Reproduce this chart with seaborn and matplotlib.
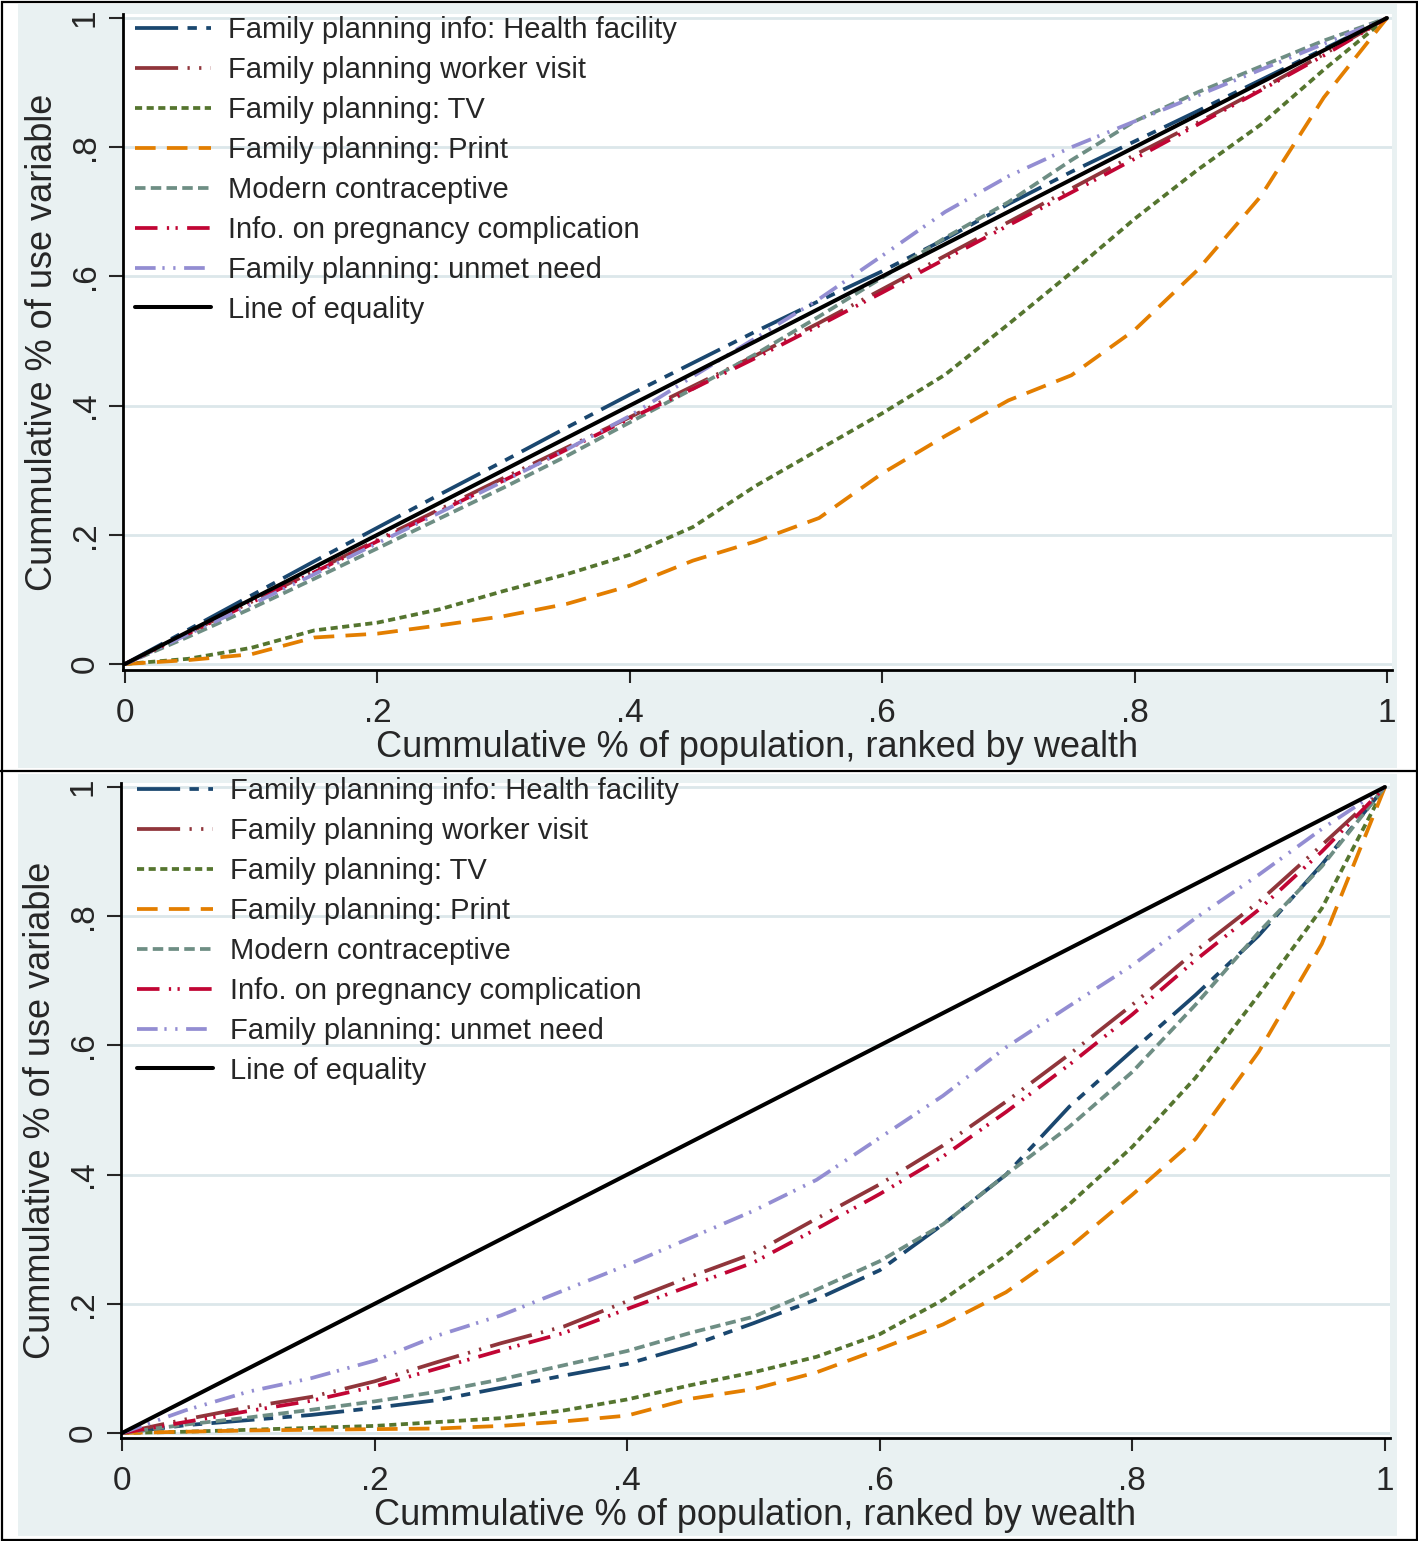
import numpy as np
import pandas as pd
import matplotlib
matplotlib.use("Agg")
import matplotlib.pyplot as plt
from matplotlib.patches import Rectangle
from matplotlib.lines import Line2D
import seaborn as sns

sns.set_style("white")
plt.rcParams['font.family'] = ['Liberation Sans', 'DejaVu Sans']

# Dane - skumulowany udzial populacji (ranking wg zamoznosci)
udzial = [0, .05, .1, .15, .2, .25, .3, .35, .4, .45, .5,
          .55, .6, .65, .7, .75, .8, .85, .9, .95, 1]

nazwy = ["Family planning info: Health facility",
         "Family planning worker visit",
         "Family planning: TV",
         "Family planning: Print",
         "Modern contraceptive",
         "Info. on pregnancy complication",
         "Family planning: unmet need",
         "Line of equality"]

# panel gorny
g_placowka = [0, .053, .106, .159, .211, .263, .314, .366, .417, .466, .515,
              .562, .608, .658, .712, .762, .809, .856, .904, .952, 1]
g_wizyta = [0, .048, .096, .144, .192, .240, .288, .335, .382, .430, .478,
            .528, .580, .632, .684, .736, .788, .838, .890, .944, 1]
g_tv = [0, .008, .025, .052, .064, .085, .113, .139, .169, .212, .276,
        .332, .388, .448, .526, .606, .689, .765, .835, .920, 1]
g_druk = [0, .006, .015, .041, .047, .060, .074, .093, .121, .160, .190,
          .226, .295, .353, .408, .447, .517, .610, .724, .877, 1]
g_nowoczesna = [0, .042, .086, .132, .179, .226, .273, .322, .374, .426, .480,
                .538, .598, .660, .715, .780, .840, .885, .925, .965, 1]
g_ciaza = [0, .047, .095, .142, .190, .237, .284, .332, .380, .426, .474,
           .524, .575, .627, .679, .730, .782, .835, .888, .942, 1]
g_potrzeba = [0, .046, .092, .139, .187, .235, .283, .332, .384, .445, .505,
              .565, .632, .700, .755, .800, .840, .880, .920, .960, 1]

# panel dolny
d_placowka = [0, .012, .020, .028, .039, .051, .070, .089, .107, .135, .170,
              .207, .252, .323, .400, .505, .592, .678, .770, .880, 1]
d_wizyta = [0, .021, .040, .056, .080, .110, .139, .165, .204, .242, .278,
            .332, .385, .445, .513, .586, .663, .746, .822, .910, 1]
d_tv = [0, .002, .005, .008, .011, .017, .023, .035, .052, .074, .094,
        .118, .153, .206, .275, .354, .443, .550, .678, .812, 1]
d_druk = [0, .002, .004, .005, .006, .007, .011, .018, .027, .053, .068,
          .094, .130, .168, .218, .287, .369, .455, .590, .757, 1]
d_nowoczesna = [0, .013, .024, .036, .049, .064, .083, .105, .127, .155, .180,
                .222, .266, .323, .400, .474, .559, .663, .775, .877, 1]
d_ciaza = [0, .017, .034, .050, .072, .100, .128, .155, .192, .228, .264,
           .316, .370, .428, .497, .570, .648, .732, .810, .900, 1]
d_potrzeba = [0, .035, .064, .085, .112, .151, .182, .221, .260, .302, .344,
              .392, .457, .522, .597, .661, .724, .797, .864, .935, 1]

rownosc_x = [0, 1]
rownosc_y = [0, 1]

kolory = ['#1A476F', '#90353B', '#55752F', '#E37E00',
          '#6E8E84', '#C10534', '#938DD2', 'black']
wzory = [(0, (11.5, 2.5, 2.5, 2.5, 2.5, 2.5)),
         (0, (11.5, 2.5, 0.6, 2.5, 0.6, 2.5)),
         (0, (1.9, 1.2)),
         (0, (5.5, 3)),
         (0, (2.8, 1.4)),
         (0, (6, 2.5, 0.6, 1.7, 0.6, 2.5)),
         (0, (5.5, 1.8, 0.6, 2.3, 0.6, 2.3)),
         '-']

W, H = 1418, 1541
fig = plt.figure(figsize=(W / 100, H / 100), dpi=100)
tlo = '#E9F1F2'


def px(x0, y0, x1, y1):
    # prostokat w pikselach -> ulamki figury
    return [x0 / W, 1 - y1 / H, (x1 - x0) / W, (y1 - y0) / H]


# tlo obszaru wykresu (styl Stata)
for y0, y1 in [(4, 768), (774, 1536)]:
    r = px(18, y0, 1397, y1)
    fig.add_artist(Rectangle((r[0], r[1]), r[2], r[3], transform=fig.transFigure,
                             facecolor=tlo, edgecolor='none', zorder=0))
fig.add_artist(Line2D([0, 1], [1 - 771 / H, 1 - 771 / H], color='black', lw=1.6,
                      transform=fig.transFigure))
fig.add_artist(Rectangle((1.5 / W, 1.5 / H), 1 - 3 / W, 1 - 3 / H,
                         transform=fig.transFigure, facecolor='none',
                         edgecolor='black', lw=1.6))


def rysuj(pos, krzywe, xlim, ylim, leg_xy):
    ax = fig.add_axes(pos)
    ax.set_facecolor('white')
    for i, y in enumerate(krzywe):
        xs = rownosc_x if i == 7 else udzial
        sns.lineplot(x=xs, y=y, ax=ax, color=kolory[i], lw=2.9 if i == 7 else 2.7,
                     ls=wzory[i], legend=False)
    ax.set_xlim(*xlim)
    ax.set_ylim(*ylim)
    ticks = [0, .2, .4, .6, .8, 1]
    etyk = ['0', '.2', '.4', '.6', '.8', '1']
    ax.set_xticks(ticks)
    ax.set_xticklabels(etyk)
    ax.set_yticks(ticks)
    ax.set_yticklabels(etyk, rotation=90, va='center')
    ax.tick_params(axis='x', direction='out', length=9, width=1.5, pad=11,
                   labelsize=24, bottom=True)
    ax.tick_params(axis='y', direction='out', length=10, width=1.5, pad=6,
                   labelsize=24, left=True)
    ax.yaxis.grid(True, color='#DCE7EA', lw=2)
    ax.xaxis.grid(False)
    ax.set_axisbelow(True)
    for s in ['top', 'right']:
        ax.spines[s].set_visible(False)
    for s in ['left', 'bottom']:
        ax.spines[s].set_color('black')
        ax.spines[s].set_linewidth(2)
    ax.set_xlabel("Cummulative % of population, ranked by wealth", fontsize=26,
                  labelpad=1)
    ax.set_ylabel("Cummulative % of use variable", fontsize=26, labelpad=7)
    linie = ax.get_lines()[:8]
    ax.legend(linie, nazwy, loc='upper left',
              bbox_to_anchor=(leg_xy[0] / W, 1 - leg_xy[1] / H),
              bbox_transform=fig.transFigure, frameon=False, fontsize=21,
              borderpad=0, borderaxespad=0, handlelength=2.6,
              handletextpad=0.6, labelspacing=0.41)
    return ax


rysuj(px(123, 14, 1392, 670),
      [g_placowka, g_wizyta, g_tv, g_druk, g_nowoczesna, g_ciaza, g_potrzeba, rownosc_y],
      (-0.0016, 1.004), (-0.0093, 1.0062), (135, 16))
rysuj(px(121, 783, 1390, 1438),
      [d_placowka, d_wizyta, d_tv, d_druk, d_nowoczesna, d_ciaza, d_potrzeba, rownosc_y],
      (-0.0008, 1.004), (-0.0077, 1.0062), (137, 777))

fig.savefig("out.png", dpi=100, facecolor='white')
